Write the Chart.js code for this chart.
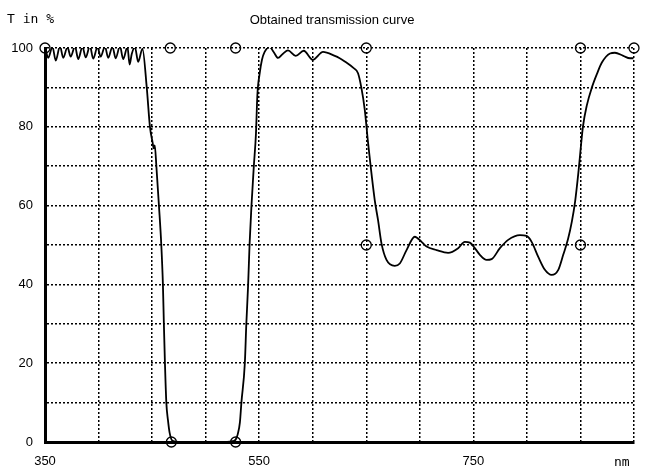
<!DOCTYPE html>
<html>
<head>
<meta charset="utf-8">
<script src="https://cdn.jsdelivr.net/npm/chart.js@4/dist/chart.umd.min.js"></script>
<style>
html,body{margin:0;padding:0;background:#fff;}
#wrap{width:646px;height:472px;position:relative;}
</style>
</head>
<body>
<div id="wrap"><canvas id="c" width="646" height="472"></canvas></div>
<script>
// Measured transmission curve (wavelength in nm, transmission in %)
const wavelengths = [
  350,353,357,360,364,367,371,374,378,381,385,388,392,395,399,402,406,409,413,416,420,423,427,429,431,434,437,441,
  445,448,450.5,451.5,452.5,454,456.4,458.6,460.1,461,462,463.3,464.8,466.4,469,475,500,520,525,
  528,530,532,533.4,536.6,538,539.7,541,542.8,545,547,548.3,550.5,552.6,555.1,559.8,563.5,567.6,572,576.9,584.1,591.6,600,609.6,620.6,625.2,629.9,637.7,642.3,645.5,648.6,651.7,
  657.9,661,664.2,668.9,676.6,681.3,687.6,695.3,701.6,706.3,715.6,726.4,735.8,742,746.7,751.4,756.1,762.3,767,774.8,782.5,793.5,799.7,804.4,810.6,816.8,823.1,829.3,833.9,838.4,842,845,848.3,852.3,856,860.7,865.5,870,877.6,882.2,890,896.3,899.5
];
const transmission = [
  100.5,97.5,100.3,96.8,100.5,97.5,100.2,97.8,100.4,97.2,100.3,97.6,100.5,97.3,100.2,97.8,100.4,97.5,100.3,97.4,100.5,97.2,100.3,95.8,98.5,100.2,96.5,99.8,
  90,80,76,74.5,75.3,70,60,50,40,30,20,10,5.6,2.3,0.3,0,0,0,0.2,
  0.6,2,5,10,20,30,40,50,60,70,78.3,88,93.6,97,99,100.2,99,97.5,98.5,99.4,98,99.3,97,99,98,97.4,96.6,95,93.6,89.8,84.3,75.9,
  61.4,56.3,50.4,46.2,44.7,45.3,48.7,52.1,50.8,49.6,48.7,48,49.2,50.8,50.6,49.2,47.5,46.2,46.4,49.2,51.3,52.5,52.3,50.8,47,43.7,42.4,43.7,47.5,51.5,56,61,69,80,85.5,90,93.5,96.3,98.6,98.8,98,97.4,97.4
];
// Tolerance mask markers
const maskX = [350,467,468,528,528,650,650,850,850,900];
const maskY = [100,100,0,0,100,100,50,50,100,100];
// Axis ticks shown
const xTickLabels = [350,550,750];
const yTickLabels = [0,20,40,60,80,100];

const curve = wavelengths.map((w,i)=>({x:w,y:transmission[i]}));
const mask = maskX.map((w,i)=>({x:w,y:maskY[i]}));

const extraText = {
  id:'extraText',
  afterDraw(chart){
    const ctx = chart.ctx;
    ctx.save();
    ctx.fillStyle = '#000';
    ctx.textBaseline = 'middle';
    ctx.font = '13px "DejaVu Sans Mono", monospace';
    ctx.textAlign = 'left';
    ctx.fillText('T in %', 7, 20);
    ctx.fillText('nm', 614, 463);
    ctx.font = '13px "Liberation Sans", Arial, sans-serif';
    ctx.textAlign = 'center';
    ctx.fillText('Obtained transmission curve', 332, 20);
    ctx.restore();
  }
};

new Chart(document.getElementById('c'), {
  type:'scatter',
  data:{
    datasets:[
      {
        label:'curve',
        data:curve,
        showLine:true,
        borderColor:'#000',
        borderWidth:1.8,
        pointRadius:0,
        cubicInterpolationMode:'monotone',
        order:1
      },
      {
        label:'mask',
        data:mask,
        showLine:false,
        clip:false,
        pointRadius:5,
        pointStyle:'circle',
        borderColor:'#000',
        backgroundColor:'rgba(0,0,0,0)',
        borderWidth:1.3,
        order:0
      }
    ]
  },
  plugins:[extraText],
  options:{
    responsive:false,
    animation:false,
    layout:{padding:{left:0,right:12,top:48,bottom:0}},
    plugins:{
      legend:{display:false},
      tooltip:{enabled:false},
      title:{display:false}
    },
    scales:{
      x:{
        type:'linear',
        min:350,max:900,
        afterBuildTicks(axis){ axis.ticks = []; for(let v=350; v<=900; v+=50) axis.ticks.push({value:v}); },
        afterFit(axis){ axis.height = 30; },
        ticks:{
          color:'#000',
          font:{family:'"Liberation Sans", Arial, sans-serif',size:13},
          padding:12,
          maxRotation:0,
          autoSkip:false,
          callback:(v)=> xTickLabels.includes(v) ? String(v) : ''
        },
        grid:{color:'#000',lineWidth:1.5,drawTicks:false},
        border:{display:true,color:'#000',width:3,dash:[2,2]}
      },
      y:{
        type:'linear',
        min:0,max:100,
        afterBuildTicks(axis){ axis.ticks = []; for(let v=0; v<=100; v+=10) axis.ticks.push({value:v}); },
        afterFit(axis){ axis.width = 45; },
        ticks:{
          color:'#000',
          font:{family:'"Liberation Sans", Arial, sans-serif',size:13},
          padding:12,
          autoSkip:false,
          callback:(v)=> yTickLabels.includes(v) ? String(v) : ''
        },
        grid:{color:'#000',lineWidth:1.5,drawTicks:false},
        border:{display:true,color:'#000',width:3,dash:[2,2]}
      }
    }
  }
});
</script>
</body>
</html>
